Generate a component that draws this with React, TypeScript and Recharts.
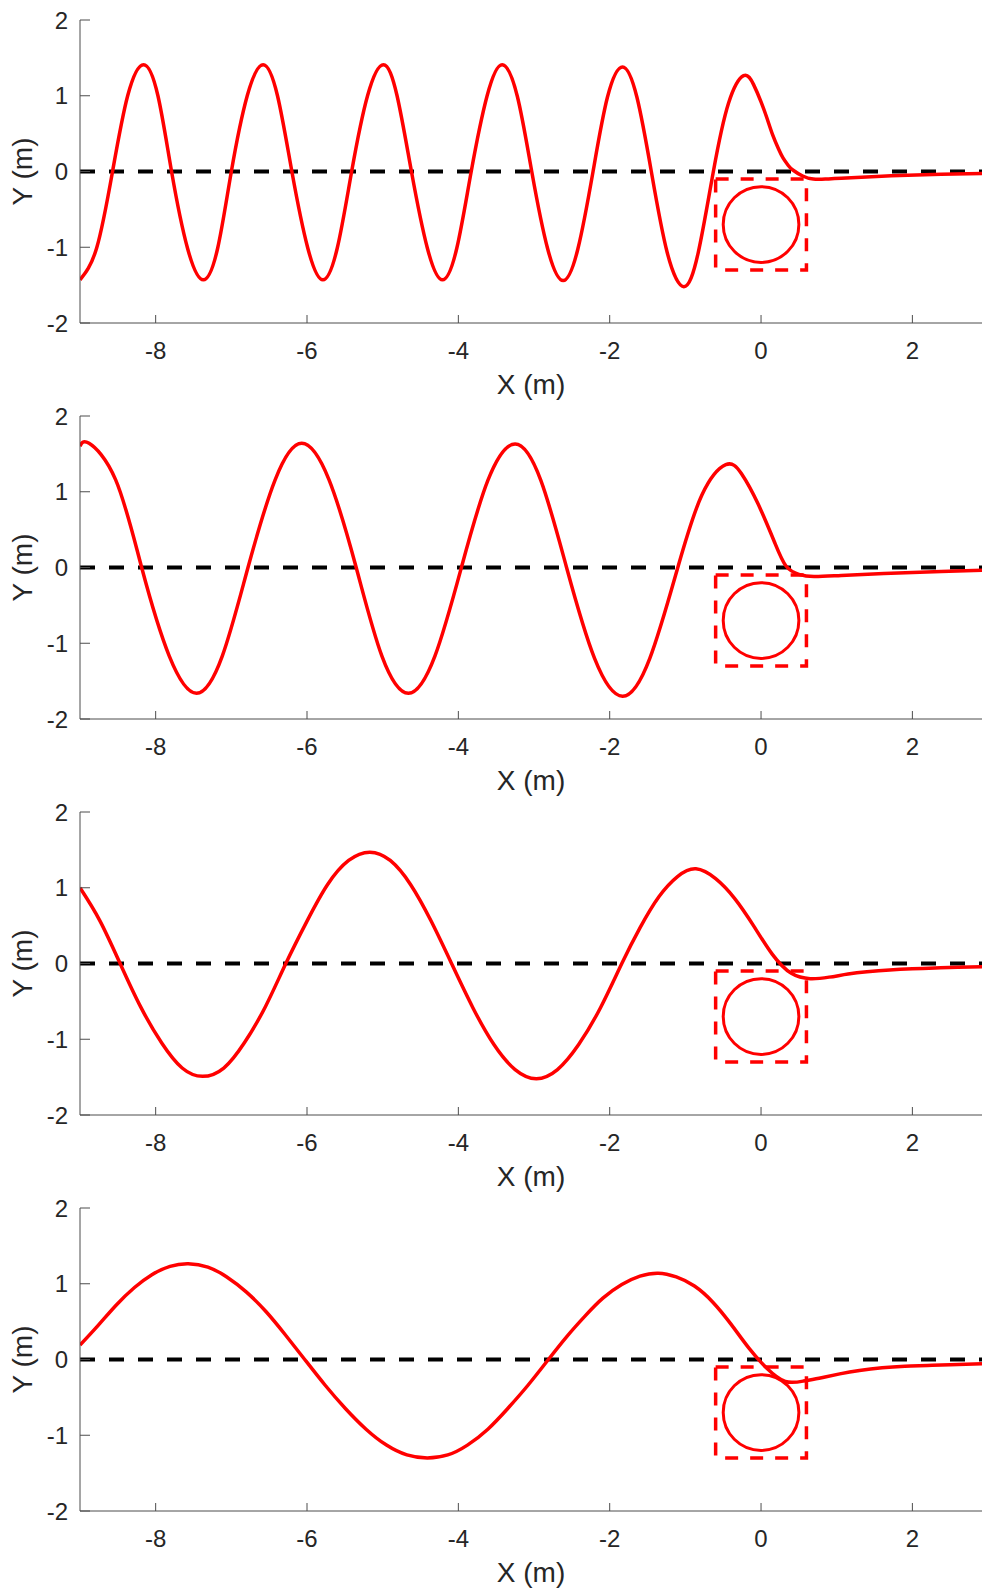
import React from 'react';
import { LineChart, Line, XAxis, YAxis, ReferenceLine, ReferenceArea } from 'recharts';

// wave profiles (x in m, y in m)
const x1 = [-9, -8.78, -8.57, -8.37, -8.16, -7.97, -7.79, -7.58, -7.37, -7.18, -7.0, -6.79, -6.58, -6.39, -6.2, -5.99, -5.79, -5.6, -5.41, -5.2, -4.99, -4.81, -4.62, -4.41, -4.21, -4.02, -3.83, -3.62, -3.42, -3.22, -3.03, -2.82, -2.615, -2.42, -2.22, -2.03, -1.83, -1.64, -1.45, -1.24, -1.02, -0.83, -0.63, -0.43, -0.23, -0.1, 0.0, 0.08, 0.155, 0.23, 0.29, 0.36, 0.42, 0.55, 0.69, 0.85, 1.06, 1.72, 2.38, 2.92];
const y1 = [-1.43, -1.01, 0, 1.0, 1.41, 1.0, 0, -1.01, -1.43, -1.01, 0, 1.0, 1.41, 1.0, 0, -1.01, -1.43, -1.01, 0, 1.0, 1.41, 1.0, 0, -1.01, -1.43, -1.01, 0, 1.0, 1.41, 0.99, 0, -1.02, -1.44, -1.02, 0, 0.98, 1.38, 0.98, 0, -1.07, -1.52, -1.07, 0, 0.9, 1.265, 1.15, 0.92, 0.7, 0.48, 0.3, 0.18, 0.08, 0.02, -0.06, -0.1, -0.1, -0.088, -0.057, -0.035, -0.026];

const x2 = [-9, -8.88, -8.53, -8.185, -7.82, -7.46, -7.12, -6.78, -6.42, -6.07, -5.71, -5.35, -5.01, -4.66, -4.31, -3.96, -3.61, -3.25, -2.91, -2.57, -2.2, -1.83, -1.47, -1.1, -0.78, -0.466, -0.26, -0.04, 0.18, 0.33, 0.5, 0.7, 1.06, 1.72, 2.38, 2.92];
const y2 = [1.6, 1.64, 1.16, 0, -1.17, -1.66, -1.17, 0, 1.16, 1.64, 1.16, 0, -1.17, -1.66, -1.17, 0, 1.15, 1.63, 1.15, 0, -1.2, -1.7, -1.2, 0, 0.96, 1.357, 1.24, 0.84, 0.33, 0.02, -0.09, -0.12, -0.105, -0.075, -0.053, -0.035];

const x3 = [-9, -8.74, -8.47, -8.2, -7.92, -7.65, -7.38, -7.1, -6.83, -6.55, -6.28, -6.0, -5.73, -5.45, -5.17, -4.9, -4.63, -4.36, -4.09, -3.81, -3.53, -3.25, -2.97, -2.69, -2.41, -2.12, -1.84, -1.6, -1.35, -1.1, -0.86, -0.6, -0.35, -0.1, 0.15, 0.4, 0.65, 0.9, 1.15, 1.4, 1.7, 2.0, 2.3, 2.6, 2.92];
const y3 = [1.0, 0.57, 0, -0.57, -1.05, -1.38, -1.49, -1.38, -1.05, -0.57, 0, 0.56, 1.04, 1.36, 1.47, 1.36, 1.04, 0.56, 0, -0.58, -1.07, -1.4, -1.52, -1.4, -1.07, -0.58, 0, 0.47, 0.88, 1.15, 1.25, 1.12, 0.86, 0.5, 0.12, -0.13, -0.2, -0.18, -0.14, -0.11, -0.085, -0.07, -0.06, -0.05, -0.044];

const x4 = [-9, -8.76, -8.52, -8.28, -8.05, -7.81, -7.57, -7.31, -7.06, -6.8, -6.54, -6.29, -6.03, -5.76, -5.49, -5.22, -4.95, -4.68, -4.41, -4.14, -3.88, -3.61, -3.35, -3.08, -2.81, -2.57, -2.33, -2.09, -1.84, -1.6, -1.36, -1.12, -0.88, -0.64, -0.4, -0.16, 0.08, 0.32, 0.56, 0.8, 1.04, 1.3, 1.6, 1.9, 2.2, 2.5, 2.92];
const y4 = [0.19, 0.45, 0.72, 0.95, 1.12, 1.23, 1.264, 1.22, 1.09, 0.89, 0.63, 0.33, 0, -0.34, -0.65, -0.92, -1.13, -1.26, -1.3, -1.26, -1.13, -0.92, -0.65, -0.34, 0, 0.3, 0.57, 0.81, 0.99, 1.1, 1.14, 1.09, 0.97, 0.76, 0.47, 0.15, -0.12, -0.29, -0.285, -0.24, -0.19, -0.145, -0.11, -0.09, -0.078, -0.068, -0.057];

const panels = [
  { xs: x1, ys: y1 },
  { xs: x2, ys: y2 },
  { xs: x3, ys: y3 },
  { xs: x4, ys: y4 },
];

// cylinder (centre 0,-0.7; radius 0.5) and its dashed bounding box
const cylinder = { x1: -0.5, x2: 0.5, y1: -1.2, y2: -0.2 };
const box = { x1: -0.6, x2: 0.6, y1: -1.3, y2: -0.1 };

const xTicks = [-8, -6, -4, -2, 0, 2];
const yTicks = [-2, -1, 0, 1, 2];

const FONT = '"Liberation Sans", Arial, Helvetica, sans-serif';
const tickStyle = { fill: '#262626', fontSize: 24, fontFamily: FONT };
const labelStyle = { fill: '#262626', fontSize: 28, fontFamily: FONT };

const Ellipse = (props: any) => {
  const { x, y, width, height } = props;
  return (
    <ellipse
      cx={x + width / 2}
      cy={y + height / 2}
      rx={width / 2}
      ry={height / 2}
      fill="none"
      stroke="#ff0000"
      strokeWidth={3}
    />
  );
};

const Panel = ({ xs, ys }: { xs: number[]; ys: number[] }) => {
  const data = xs.map((x, i) => ({ x, y: ys[i] }));
  return (
    <LineChart width={982} height={420} data={data} margin={{ top: 20, right: 0, left: 0, bottom: 0 }}>
      <XAxis
        dataKey="x"
        type="number"
        domain={[-9, 2.92]}
        allowDataOverflow
        ticks={xTicks}
        tick={tickStyle}
        tickSize={-8}
        tickMargin={27}
        height={97}
        stroke="#4d4d4d"
        label={{ value: 'X (m)', position: 'insideTop', offset: 51, ...labelStyle }}
      />
      <YAxis
        type="number"
        domain={[-2, 2]}
        ticks={yTicks}
        tick={tickStyle}
        tickSize={-10}
        tickMargin={22}
        width={80}
        stroke="#4d4d4d"
        label={{ value: 'Y (m)', angle: -90, position: 'insideLeft', offset: 22, ...labelStyle, style: { textAnchor: 'middle' } }}
      />
      <ReferenceLine y={0} stroke="#000000" strokeWidth={4} strokeDasharray="15 14" />
      <ReferenceArea {...box} fill="none" stroke="#ff0000" strokeWidth={3.5} strokeDasharray="13 12" />
      <ReferenceArea {...cylinder} shape={Ellipse} />
      <Line
        type="natural"
        dataKey="y"
        stroke="#ff0000"
        strokeWidth={3.5}
        dot={false}
        activeDot={false}
        isAnimationActive={false}
      />
    </LineChart>
  );
};

export default function App() {
  return (
    <div style={{ position: 'absolute', left: 0, top: 0, width: 982, height: 1592, background: '#fff' }}>
      {panels.map((p, i) => (
        <div key={i} style={{ position: 'absolute', left: 0, top: i * 396 }}>
          <Panel xs={p.xs} ys={p.ys} />
        </div>
      ))}
    </div>
  );
}
